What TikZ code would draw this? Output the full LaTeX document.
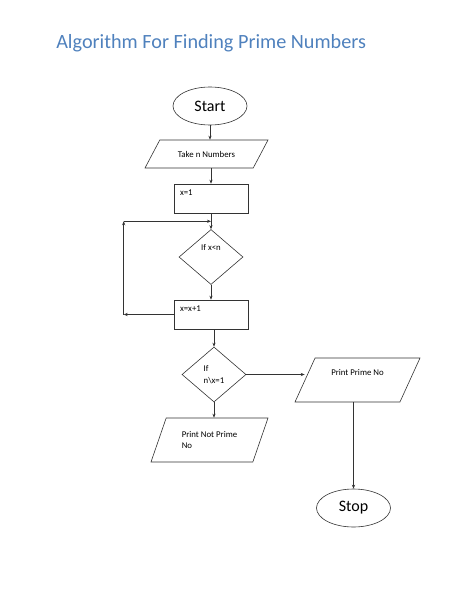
\documentclass[tikz,border=0pt]{standalone}
\usepackage{fontspec}
\setmainfont{Carlito}
\usetikzlibrary{shapes.geometric,arrows.meta,positioning}
\definecolor{titleblue}{HTML}{4F81BD}
\definecolor{linegray}{HTML}{333333}
\tikzset{
  >={Stealth[length=4pt,width=3.2pt]},
  smalltext/.style={font=\fontsize{8.8}{11.5}\selectfont},
  terminal/.style={draw=linegray, ellipse, minimum width=74pt, minimum height=38pt,
    inner sep=0pt, font=\fontsize{16}{19}\selectfont},
  io/.style={draw=linegray, trapezium, trapezium stretches body, smalltext,
    minimum height=44pt},
  process/.style={draw=linegray, rectangle, minimum width=74pt, minimum height=29pt,
    text width=62pt, align=left, text height=6pt, text depth=13pt, smalltext},
  decision/.style={draw=linegray, diamond, minimum width=64pt, minimum height=55pt,
    inner sep=0pt, align=left, smalltext}
}
\begin{document}
\begin{tikzpicture}[line width=0.6pt]
  \useasboundingbox (0pt,0pt) rectangle (474pt,-613pt);
  \node [anchor=base west, text=titleblue, inner sep=0pt,
    font=\fontsize{20.2}{24}\selectfont]
    (title) at (56pt,-48pt) {Algorithm For Finding Prime Numbers};

  \node (start) [terminal] at (210pt,-106pt) {Start};
  \node (take) [io, below of=start, node distance=48pt, xshift=-3.5pt,
    trapezium left angle=41, trapezium right angle=139,
    minimum height=28pt, minimum width=123pt] {Take n Numbers};
  \node (xone) [process, below of=take, node distance=44.5pt, xshift=4.5pt] {x=1};
  \node (test) [decision, below of=xone, node distance=58.5pt,
    text height=6pt, text depth=20pt] {If x<n};
  \node (xinc) [process, below of=test, node distance=57.5pt] {x=x+1};
  \node (check) [decision, below of=xinc, node distance=60pt, xshift=3pt]
    {If\\n\textbackslash x=1};
  \node (notprime) [io, below of=check, node distance=65.5pt, xshift=-4.5pt,
    trapezium left angle=58, trapezium right angle=122,
    minimum width=117pt, align=left] {Print Not Prime\\No};
  \node (prime) [io, right of=check, node distance=143.5pt, yshift=-5.5pt,
    trapezium left angle=55, trapezium right angle=125,
    minimum width=125pt, text height=6pt, text depth=16pt] {Print Prime No};
  \node (stop) [terminal, below of=prime, node distance=128pt, xshift=-4pt] {Stop};

  % loop back from x=x+1
  \coordinate (loopJ) at ([yshift=-8pt]xone.south);
  \coordinate (loopB) at ([xshift=-50pt]xinc.west);
  \coordinate (loopT) at (loopB |- loopJ);

  \path[->, color=linegray]
    (start.south) edge (start.south |- take.north)
    (xone.north |- take.south) edge (xone.north)
    (xone) edge (test)
    (test) edge (xinc)
    (check.north |- xinc.south) edge (check.north)
    (check.south) edge (check.south |- notprime.north)
    (check.east) edge (check.east -| prime.west)
    (stop.north |- prime.south) edge (stop.north);
  \path[->, color=linegray]
    (xinc.west) edge (loopB)
    (loopB) edge (loopT)
    (loopT) edge (loopJ -| xone.south);
\end{tikzpicture}
\end{document}
